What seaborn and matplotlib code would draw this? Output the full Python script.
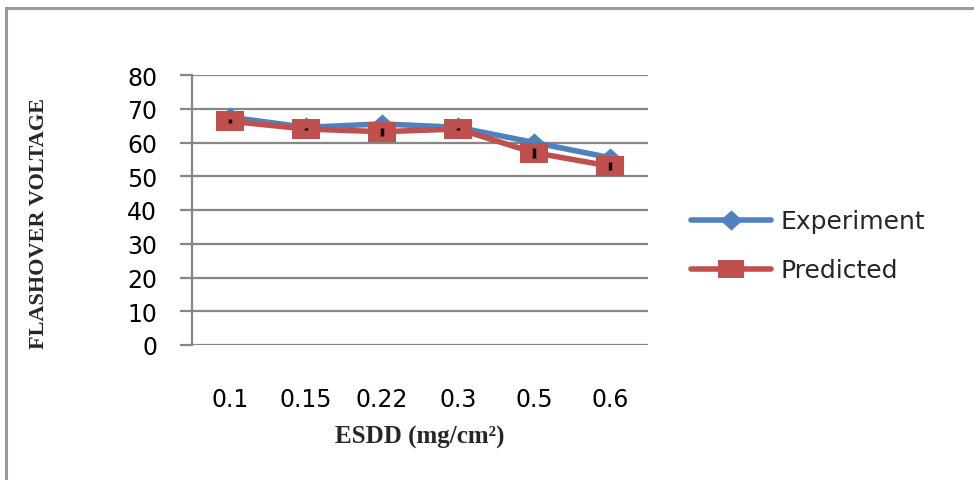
import matplotlib
matplotlib.use("Agg")
import matplotlib.pyplot as plt
from matplotlib.patches import Rectangle
from matplotlib.lines import Line2D
from matplotlib.path import Path
import seaborn as sns
import pandas as pd
import numpy as np

# ESDD levels and flashover voltages
esdd = ["0.1", "0.15", "0.22", "0.3", "0.5", "0.6"]
experiment = [67.5, 64.5, 65.5, 64.5, 60.0, 55.5]
predicted = [66.3, 64.0, 63.2, 64.0, 57.0, 53.0]
yticks = [0, 10, 20, 30, 40, 50, 60, 70, 80]

BLUE = "#4F81BD"
RED = "#C0504D"
GRID = "#868686"

# wide, flat marker shapes
WIDE_SQUARE = Path([(-0.7, -0.5), (0.7, -0.5), (0.7, 0.5), (-0.7, 0.5), (-0.7, -0.5)],
                   [Path.MOVETO, Path.LINETO, Path.LINETO, Path.LINETO, Path.CLOSEPOLY])
WIDE_DIAMOND = Path([(-0.55, 0), (0, -0.5), (0.55, 0), (0, 0.5), (-0.55, 0)],
                    [Path.MOVETO, Path.LINETO, Path.LINETO, Path.LINETO, Path.CLOSEPOLY])

sns.set_theme(style="white")
plt.rcParams["font.family"] = ["DejaVu Sans"]

df = pd.DataFrame({
    "ESDD": esdd * 2,
    "Voltage": experiment + predicted,
    "Series": ["Experiment"] * len(esdd) + ["Predicted"] * len(esdd),
})

W, H = 974, 481
fig = plt.figure(figsize=(W / 100, H / 100), dpi=100)
fig.patch.set_facecolor("white")

# outer chart frame
fig.add_artist(Rectangle((6 / W, -0.05), 1.1, (H - 9) / H + 0.05,
                         transform=fig.transFigure, fill=False,
                         edgecolor="#9a9a9a", linewidth=2.2, zorder=0))

ax = fig.add_axes([192 / W, (H - 346) / H, 456 / W, 270 / H])

sns.lineplot(data=df, x="ESDD", y="Voltage", hue="Series", style="Series",
             palette={"Experiment": BLUE, "Predicted": RED},
             markers={"Experiment": WIDE_DIAMOND, "Predicted": WIDE_SQUARE},
             dashes=False, linewidth=4.0, markeredgewidth=0,
             legend=False, ax=ax, sort=False)
for ln in ax.lines:
    c = matplotlib.colors.to_hex(ln.get_color()).lower()
    if c == RED.lower():
        ln.set_markersize(20)
        ln.set_zorder(3)
    else:
        ln.set_markersize(16)
        ln.set_zorder(2)

# deviation between the two series
xpos = np.arange(len(esdd))
dev = np.abs(np.array(experiment) - np.array(predicted)) / 2
ax.errorbar(xpos, predicted, yerr=np.maximum(dev, 0.15), fmt="none",
            ecolor="black", elinewidth=2.5, capsize=0, zorder=5)

ax.set_xlim(-0.5, len(esdd) - 0.5)
ax.set_ylim(0, 80)
ax.set_yticks(yticks)
ax.yaxis.grid(True, color=GRID, linewidth=1.6)
ax.xaxis.grid(False)
ax.set_axisbelow(True)
for s in ["top", "right", "bottom"]:
    ax.spines[s].set_visible(False)
ax.spines["left"].set_color(GRID)
ax.spines["left"].set_linewidth(1.6)
ax.tick_params(axis="y", which="major", left=True, length=9, width=1.6,
               color=GRID, labelsize=17, pad=16, labelcolor="black")
ax.tick_params(axis="x", bottom=False, labelsize=17, pad=24,
               labelcolor="black")

ax.set_xlabel("ESDD (mg/cm²)", family="Liberation Serif", weight="bold",
              fontsize=18, va="center")
ax.xaxis.set_label_coords(0.5, (346 - 437) / 270)
ax.set_ylabel("FLASHOVER VOLTAGE", family="Liberation Serif", weight="bold",
              fontsize=16, va="center")
ax.yaxis.set_label_coords((39 - 192) / 456, (346 - 224) / 270)

handles = [
    Line2D([], [], color=BLUE, linewidth=4.0, marker=WIDE_DIAMOND,
           markersize=16, markeredgewidth=0),
    Line2D([], [], color=RED, linewidth=4.0, marker=WIDE_SQUARE,
           markersize=19, markeredgewidth=0),
]
fig.legend(handles, ["Experiment", "Predicted"], loc="upper left",
           bbox_to_anchor=(668 / W, 1 - 188 / H), frameon=False,
           fontsize=18, handlelength=3.2, handletextpad=0.4,
           labelspacing=1.0)

fig.savefig("out.png", dpi=100)
